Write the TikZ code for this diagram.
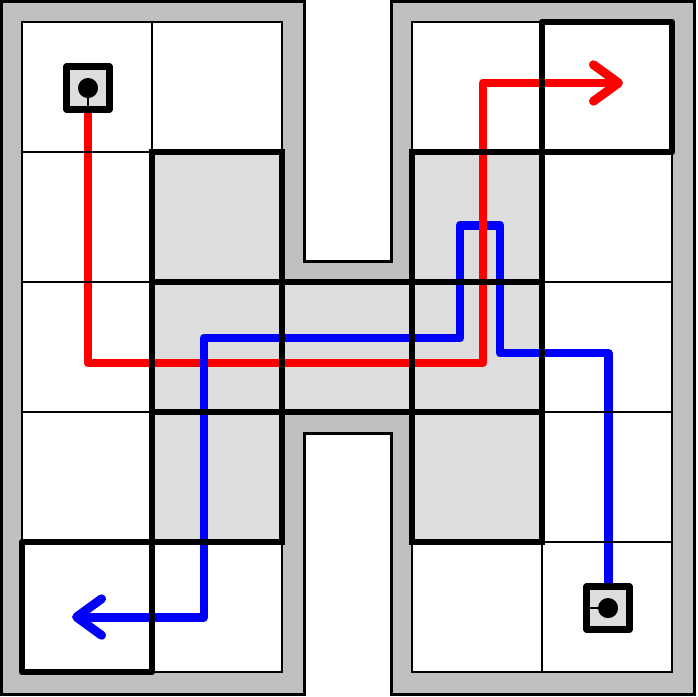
\documentclass[tikz,border=0pt]{standalone}
\usepackage{xcolor}
\usepackage{tikz}
\usetikzlibrary{arrows.meta}

\definecolor{wallgray}{HTML}{C0C0C0}
\definecolor{cellgray}{HTML}{DDDDDD}
\definecolor{pathred}{HTML}{FF0000}
\definecolor{pathblue}{HTML}{0000FF}

\pgfdeclarelayer{back}
\pgfdeclarelayer{route}
\pgfsetlayers{back,route,main}

\begin{document}
\begin{tikzpicture}[x=1cm,y=1cm,line join=round,
    >={Straight Barb[length=5.5pt,width=8pt,line cap=round,line join=round]},
    thinline/.style={black,line width=0.6pt,line cap=rect},
    boldline/.style={black,line width=1.45pt,line cap=rect},
    route/.style={line width=1.95pt,line cap=round,line join=round},
    endbox/.style={draw,line width=1.6pt,fill=cellgray,minimum size=9.3pt,inner sep=0pt}]
  \useasboundingbox (-0.169,-0.192) rectangle (5.192,5.169);
  % corners of the two routes
  \coordinate (R1) at (0.508,2.377);
  \coordinate (R2) at (3.546,2.377);
  \coordinate (R3) at (3.546,4.531);
  \coordinate (R4) at (4.623,4.531);
  \coordinate (B1) at (4.508,2.454);
  \coordinate (B2) at (3.677,2.454);
  \coordinate (B3) at (3.677,3.438);
  \coordinate (B4) at (3.369,3.438);
  \coordinate (B5) at (3.369,2.569);
  \coordinate (B6) at (1.400,2.569);
  \coordinate (B7) at (1.400,0.423);
  \coordinate (B8) at (0.385,0.423);
  \begin{pgfonlayer}{back}
    % wall round the H
    \filldraw[fill=wallgray,draw=black,line width=0.6pt]
      (-0.155,-0.175) -- (2.175,-0.175) -- (2.175,1.835) -- (2.840,1.835)
      -- (2.840,-0.175) -- (5.175,-0.175) -- (5.175,5.155) -- (2.840,5.155)
      -- (2.840,3.155) -- (2.175,3.155) -- (2.175,5.155) -- (-0.155,5.155) -- cycle;
    \fill[white] (0,0) -- (2,0) -- (2,2) -- (3,2) -- (3,0) -- (5,0) -- (5,5)
      -- (3,5) -- (3,3) -- (2,3) -- (2,5) -- (0,5) -- cycle;
    \fill[cellgray] (1,1) rectangle (2,4);
    \fill[cellgray] (2,2) rectangle (3,3);
    \fill[cellgray] (3,1) rectangle (4,4);
  \end{pgfonlayer}
  % start boxes
  \node[endbox] (redstart) at (0.508,4.492) {};
  \node[endbox] (bluestart) at (4.508,0.492) {};
  \fill (redstart.center) circle (2.2pt);
  \draw[line width=0.45pt] (redstart.center) -- (redstart.south);
  \fill (bluestart.center) circle (2.2pt);
  \draw[line width=0.45pt] (bluestart.center) -- (bluestart.west);
  \begin{pgfonlayer}{route}
    \draw[route,pathred,->] (redstart.south) -- (R1) -- (R2) -- (R3) -- (R4);
    \draw[route,pathblue,->] (bluestart.north) -- (B1) -- (B2) -- (B3) -- (B4)
      -- (B5) -- (B6) -- (B7) -- (B8);
    \draw[route,pathred] (3.546,3.30) -- (3.546,3.60);
  \end{pgfonlayer}
  % cell lines
  \draw[thinline] (0,0) grid (2,5);
  \draw[thinline] (3,0) grid (5,5);
  \draw[thinline] (2,2) rectangle (3,3);
  \draw[boldline] (1,1) grid (2,4);
  \draw[boldline] (2,2) rectangle (3,3);
  \draw[boldline] (3,1) grid (4,4);
  \draw[boldline] (4,4) rectangle (5,5);
  \draw[boldline] (0,0) rectangle (1,1);
\end{tikzpicture}
\end{document}
